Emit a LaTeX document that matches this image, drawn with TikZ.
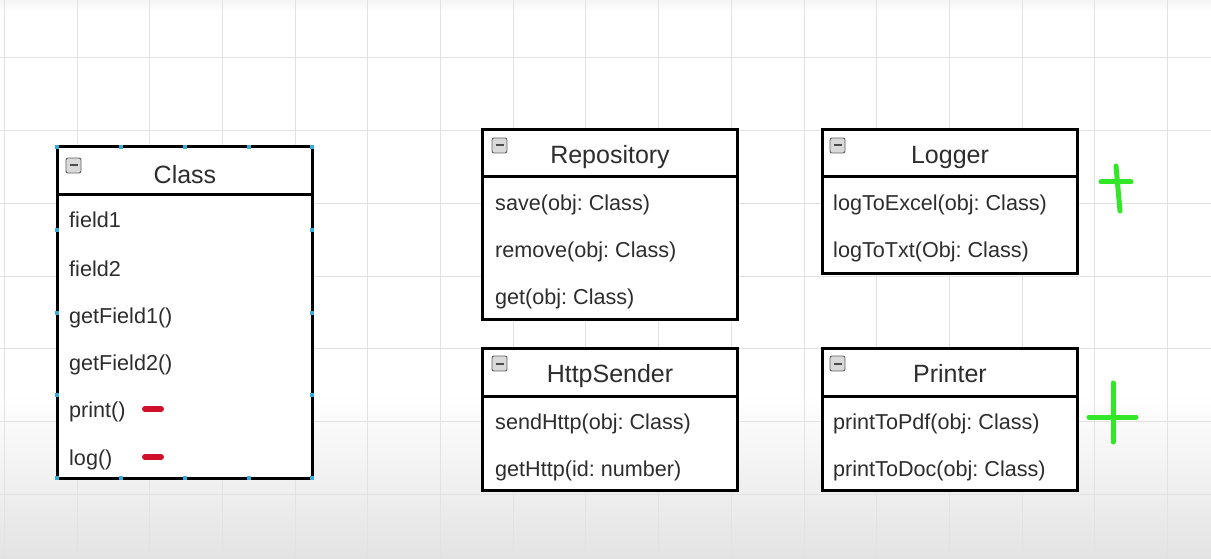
\documentclass[tikz,border=0pt]{standalone}
\usepackage{fontspec}
\setmainfont{Liberation Sans}
\frenchspacing
\definecolor{gridc}{RGB}{226,226,226}
\definecolor{txt}{RGB}{45,45,45}
\definecolor{redmark}{RGB}{208,16,42}
\definecolor{greenmark}{RGB}{50,230,40}
\definecolor{handle}{RGB}{60,170,215}
\begin{document}
\begin{tikzpicture}[x=1pt,y=-1pt,
  umlbox/.style={draw=black,line width=3pt,fill=white,anchor=north west,inner sep=0pt,outer sep=0pt,minimum width=255pt},
  title/.style={anchor=base,text=txt,font=\fontsize{25}{28}\selectfont,inner sep=0pt},
  item/.style={anchor=base west,text=txt,font=\fontsize{21.6}{24}\selectfont,inner sep=0pt},
  minusicon/.style={draw=gray!75!black,fill=gray!30,rounded corners=2pt,minimum size=15pt,inner sep=0pt,outer sep=0pt,anchor=north west,line width=0.9pt,
    path picture={\draw[line width=2pt,black!70] ([xshift=-4pt]path picture bounding box.center) -- ([xshift=4pt]path picture bounding box.center);}},
  reddash/.style={draw=redmark,line width=6pt,line cap=round},
  greenplus/.style={draw=greenmark,line width=5pt,line cap=round},
  hdl/.style={fill=handle,draw=none,minimum size=4pt,inner sep=0pt,shape=rectangle}
]
\useasboundingbox (0,0) rectangle (1211,559);
% background
\fill[white] (0,0) rectangle (1211,559);
\shade[top color=white,bottom color=gray!22] (0,395) rectangle (1211,559);
\shade[top color=gray!8,bottom color=white] (0,0) rectangle (1211,12);
% grid
\foreach \i in {0,...,16} {\draw[gridc,line width=1pt] (4.3+72.7*\i,0) -- (4.3+72.7*\i,559);}
\foreach \j in {0,...,7} {\draw[gridc,line width=1pt] (0,-14.7+72.7*\j) -- (1211,-14.7+72.7*\j);}

% ---------- Class ----------
\node[umlbox,minimum height=331pt] (cls) at (57,147) {};
\draw[line width=3pt] ([yshift=-48pt]cls.north west) -- ([yshift=-48pt]cls.north east);
\node[minusicon] (cls-m) at (66,158) {};
\node[title] (cls-t) at (185,183) {Class};
\node[item] (cls-1) at (69,228) {field1};
\node[item] (cls-2) at (69,276) {field2};
\node[item] (cls-3) at (69,323) {getField1()};
\node[item] (cls-4) at (69,370) {getField2()};
\node[item] (cls-5) at (69,417) {print()};
\node[item] (cls-6) at (69,465) {log()};
\draw[reddash] (145,409) -- (161,409);
\draw[reddash] (145,457) -- (161,457);
% selection handles
\foreach \hx in {57,121,185,249,312} {
  \node[hdl] at (\hx,147) {};
  \node[hdl] at (\hx,478) {};
}
\foreach \hy in {230,312.5,395} {
  \node[hdl] at (57,\hy) {};
  \node[hdl] at (312,\hy) {};
}

% ---------- Repository ----------
\node[umlbox,minimum height=189pt] (rep) at (482.5,130) {};
\draw[line width=3pt] ([yshift=-47pt]rep.north west) -- ([yshift=-47pt]rep.north east);
\node[minusicon] (rep-m) at (492,138) {};
\node[title] (rep-t) at (610,164) {Repository};
\node[item] (rep-1) at (495,211) {save(obj: Class)};
\node[item] (rep-2) at (495,257) {remove(obj: Class)};
\node[item] (rep-3) at (495,304) {get(obj: Class)};

% ---------- HttpSender ----------
\node[umlbox,minimum height=142pt] (http) at (482.5,348) {};
\draw[line width=3pt] ([yshift=-48pt]http.north west) -- ([yshift=-48pt]http.north east);
\node[minusicon] (http-m) at (492,356) {};
\node[title] (http-t) at (610,382) {HttpSender};
\node[item] (http-1) at (495,429) {sendHttp(obj: Class)};
\node[item] (http-2) at (495,476) {getHttp(id: number)};

% ---------- Logger ----------
\node[umlbox,minimum height=143pt] (log) at (822,130) {};
\draw[line width=3pt] ([yshift=-47pt]log.north west) -- ([yshift=-47pt]log.north east);
\node[minusicon] (log-m) at (830,138) {};
\node[title] (log-t) at (950,164) {Logger};
\node[item] (log-1) at (833,211) {logToExcel(obj: Class)};
\node[item] (log-2) at (833,257) {logToTxt(Obj: Class)};

% ---------- Printer ----------
\node[umlbox,minimum height=142pt] (prn) at (822,348) {};
\draw[line width=3pt] ([yshift=-48pt]prn.north west) -- ([yshift=-48pt]prn.north east);
\node[minusicon] (prn-m) at (830,356) {};
\node[title] (prn-t) at (950,382) {Printer};
\node[item] (prn-1) at (833,429) {printToPdf(obj: Class)};
\node[item] (prn-2) at (833,476) {printToDoc(obj: Class)};

% green plus marks
\draw[greenplus] (1101,182) -- (1131,182);
\draw[greenplus] (1116,166) -- (1120,211);
\draw[greenplus] (1089,417) -- (1136,417);
\draw[greenplus] (1113,383) -- (1113,442);
\end{tikzpicture}
\end{document}
